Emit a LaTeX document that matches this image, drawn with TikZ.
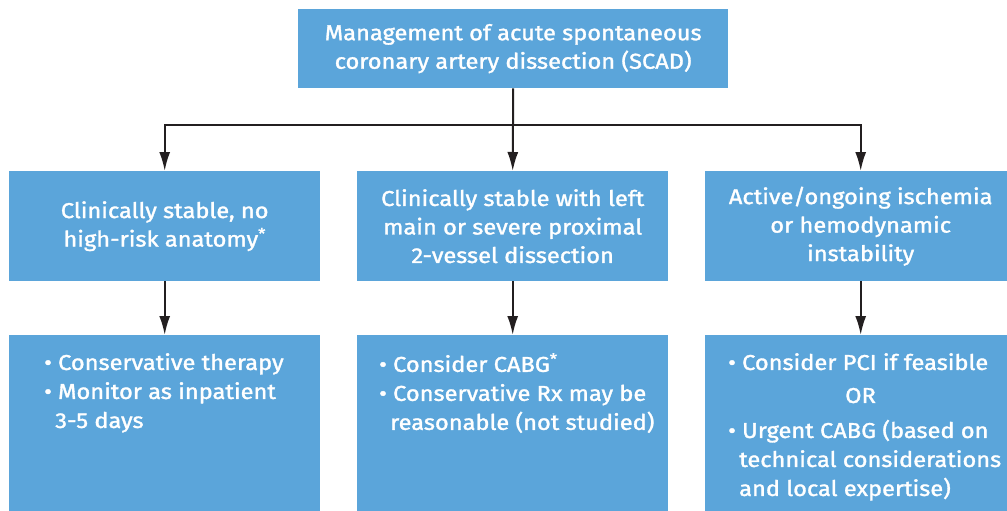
\documentclass[tikz,border=0pt]{standalone}
\usepackage{fontspec}
\setmainfont{Fira Sans}[FakeStretch=1.1, FakeBold=1.5]
\usetikzlibrary{arrows.meta}
\definecolor{scadblue}{RGB}{91,165,218}
\definecolor{linegray}{RGB}{35,31,32}

\begin{document}
\begin{tikzpicture}[x=1pt,y=-1pt,
  box/.style={fill=scadblue, draw=none, anchor=north west, inner sep=0pt,
    minimum width=311pt, text=white, align=center,
    font=\fontsize{21.5}{28.5}\selectfont},
  list/.style={anchor=north west, inner sep=0pt, text=white, align=left,
    font=\fontsize{21.5}{29}\selectfont},
  flow/.style={draw=linegray, line width=2pt, -{Latex[length=19pt,width=11pt]}}]
\useasboundingbox (0,0) rectangle (1007,511);
\clip (0,0) rectangle (1007,511);
% boxes
\node [box, minimum width=430pt, minimum height=79pt] (scad) at (298,9)
  {Management of acute spontaneous\\coronary artery dissection (SCAD)};
\node [box, minimum height=110pt] (stable) at (9,171)
  {Clinically stable, no\\high-risk anatomy\textsuperscript{*}};
\node [box, minimum height=110pt] (leftmain) at (357,171)
  {Clinically stable with left\\main or severe proximal\\2-vessel dissection};
\node [box, minimum height=110pt] (ischemia) at (705,171)
  {Active/ongoing ischemia\\or hemodynamic\\instability};
\node [box, minimum height=190pt] (conservative) at (9,335) {};
\node [box, minimum height=190pt] (cabg) at (357,335) {};
\node [box, minimum height=190pt] (pci) at (705,335) {};
% lists
\node [list] (conservtext) at (44,353)
  {\textbullet\ Conservative therapy\\
   \textbullet\ Monitor as inpatient\\
   \hspace*{11pt}3-5 days};
\node [list] (cabgtext) at (379,353)
  {\textbullet\ Consider CABG\textsuperscript{*}\\
   \textbullet\ Conservative Rx may be\\
   \hspace*{11pt}reasonable (not studied)};
\node [list] (pcitext) at (728,353)
  {\textbullet\ Consider PCI if feasible\\[4pt]
   \hspace*{117pt}OR\\[6pt]
   \textbullet\ Urgent CABG (based on\\
   \hspace*{11pt}technical considerations\\
   \hspace*{11pt}and local expertise)};
% connectors
\coordinate (split) at (513,125);
\draw [draw=linegray, line width=2pt] (scad.south) -- (split);
\draw [flow] (split) -| (stable.north);
\draw [flow] (split) -- (leftmain.north);
\draw [flow] (split) -| (ischemia.north);
\draw [flow] (stable.south) -- (conservative.north);
\draw [flow] (leftmain.south) -- (cabg.north);
\draw [flow] (ischemia.south) -- (pci.north);
\end{tikzpicture}
\end{document}
